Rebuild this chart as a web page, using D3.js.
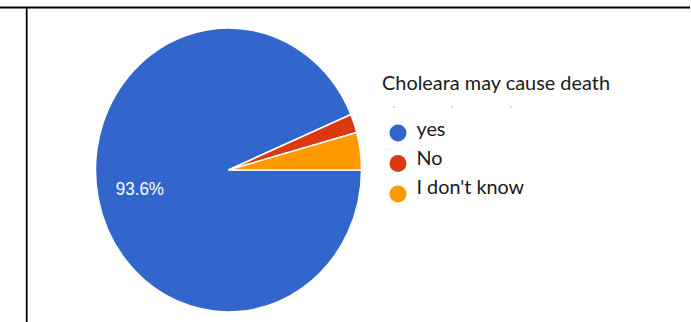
<!DOCTYPE html>
<html lang="en">
<head>
    <meta charset="UTF-8">
    <script src="https://d3js.org/d3.v7.min.js"></script>
    <style>
        body { margin: 0; background: white; }
        text { font-family: Lato, "Noto Sans", sans-serif; }
    </style>
</head>
<body>
    <svg id="chart" width="691" height="322"></svg>

    <script>
        // data (44 / 1 / 2 answers -> 93.6%)
        const categories = ["yes", "No", "I don't know"];
        const counts = [44, 1, 2];
        const colors = ["#3366cc", "#dc3912", "#ff9900"];
        const title = "Choleara may cause death";

        const width = 691, height = 322;
        const svg = d3.select("#chart")
            .attr("width", width)
            .attr("height", height);

        // table borders
        svg.append("line")
            .attr("x1", 0).attr("x2", 690)
            .attr("y1", 7.5).attr("y2", 7.5)
            .attr("stroke", "black").attr("stroke-width", 1.8);
        svg.append("line")
            .attr("x1", 26.7).attr("x2", 26.7)
            .attr("y1", 7).attr("y2", height)
            .attr("stroke", "black").attr("stroke-width", 1.8);

        const cx = 228.5, cy = 170, r = 133, ry = 142;

        const data = categories.map((c, i) => ({ name: c, value: counts[i], color: colors[i] }));
        const total = d3.sum(counts);

        const pie = d3.pie()
            .sort(null)
            .value(d => d.value)
            .startAngle(Math.PI / 2)
            .endAngle(Math.PI / 2 + 2 * Math.PI);

        const arc = d3.arc().innerRadius(0).outerRadius(r);
        const labelArc = d3.arc().innerRadius(r * 0.68).outerRadius(r * 0.68);

        // picture is slightly stretched vertically
        const g = svg.append("g")
            .attr("transform", `translate(${cx},${cy}) scale(1,${ry / r})`);

        const arcs = pie(data);

        g.selectAll("path")
            .data(arcs)
            .enter().append("path")
            .attr("d", arc)
            .attr("fill", d => d.data.color)
            .attr("stroke", "white")
            .attr("stroke-width", 1.5);

        // percentage labels only where the slice is big enough
        g.selectAll(".label")
            .data(arcs.filter(d => d.data.value / total > 0.1))
            .enter().append("text")
            .attr("class", "label")
            .attr("transform", d => `translate(${labelArc.centroid(d)})`)
            .attr("text-anchor", "middle")
            .attr("dy", "0.33em")
            .style("font-family", "'Liberation Sans', Arial, sans-serif")
            .style("font-size", "17px")
            .attr("fill", "white")
            .text(d => (d.data.value / total * 100).toFixed(1) + "%");

        // legend
        svg.append("text")
            .attr("x", 382)
            .attr("y", 90)
            .style("font-size", "19.9px")
            .attr("fill", "#1a1a1a")
            .text(title);

        // faint dots under the title
        svg.selectAll(".dot")
            .data([394, 452, 511])
            .enter().append("circle")
            .attr("cx", d => d)
            .attr("cy", 107)
            .attr("r", 0.8)
            .attr("fill", "#aaa");

        const ly = d3.scalePoint().domain(categories).range([136, 194]);

        const items = svg.selectAll(".item")
            .data(data)
            .enter().append("g")
            .attr("class", "item");

        items.append("circle")
            .attr("cx", 398)
            .attr("cy", (d, i) => ly(d.name) - 3 + i * 1.5)
            .attr("r", 8.5)
            .attr("fill", d => d.color);

        items.append("text")
            .attr("x", 416.5)
            .attr("y", d => ly(d.name))
            .style("font-size", "19.8px")
            .attr("fill", "#1a1a1a")
            .text(d => d.name);
    </script>
</body>
</html>
